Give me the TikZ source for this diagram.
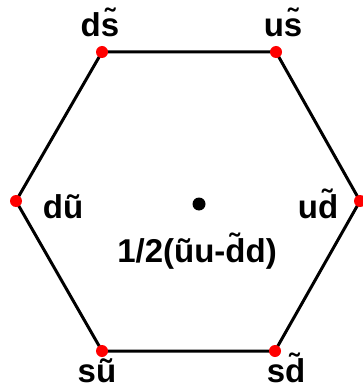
\documentclass[tikz,border=0pt]{standalone}
\usepackage{fontspec}
\setmainfont{Liberation Sans}
\begin{document}
\begin{tikzpicture}[x=1pt,y=-1pt,
    vertice/.style={circle,fill=red,inner sep=0pt,minimum size=12pt},
    centro/.style={circle,fill=black,inner sep=0pt,minimum size=13pt},
    etiqueta/.style={font=\fontsize{33}{38}\selectfont\bfseries,inner sep=0pt,anchor=base}]
    \useasboundingbox (0,0) rectangle (362,390);
    % Hexagono
    \coordinate (ds) at (102,52);
    \coordinate (us) at (276,52);
    \coordinate (ud) at (360,201);
    \coordinate (sd) at (275,351);
    \coordinate (su) at (102,351);
    \coordinate (du) at (16,201);
    \draw[line width=3pt] (ds) -- (us) -- (ud) -- (sd) -- (su) -- (du) -- cycle;
    \foreach \v in {ds,us,ud,sd,su,du}
        \node[vertice] at (\v) {};
    \node[centro] (c) at (199,204) {};

    % Etiquetas
    \node[etiqueta] (lds) at (100,37) {d\~{s}};
    \node[etiqueta] (lus) at (283,37) {u\~{s}};
    \node[etiqueta] (ldu) at (63,218) {d\~{u}};
    \node[etiqueta] (lud) at (318,218) {u\~{d}};
    \node[etiqueta] (lc) at (197,262) {1/2(\~{u}u-\~{d}d)};
    \node[etiqueta] (lsu) at (97,382) {s\~{u}};
    \node[etiqueta] (lsd) at (286,382) {s\~{d}};
\end{tikzpicture}
\end{document}
